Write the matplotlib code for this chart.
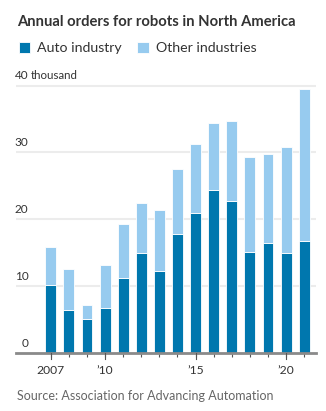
import matplotlib
matplotlib.use('Agg')
import matplotlib.pyplot as plt
import matplotlib.transforms as mtransforms
import numpy as np

plt.rcParams['font.family'] = ['Lato', 'DejaVu Sans']

# ---------------- data (thousands of robots ordered) ----------------
years = [2007, 2008, 2009, 2010, 2011, 2012, 2013, 2014,
         2015, 2016, 2017, 2018, 2019, 2020, 2021]
auto = [10.15, 6.4, 5.0, 6.65, 11.15, 14.9, 12.25, 17.7,
        20.95, 24.4, 22.65, 15.1, 16.35, 15.0, 16.65]
total = [15.8, 12.5, 7.15, 13.15, 19.3, 22.4, 21.4, 27.5,
         31.25, 34.4, 34.7, 29.3, 29.75, 30.8, 39.5]
other = [t - a for t, a in zip(total, auto)]

y_ticks = [0, 10, 20, 30, 40]
x_major = {2007: '2007', 2010: '\u201910', 2015: '\u201915', 2020: '\u201920'}

c_auto = '#0077ae'
c_other = '#97cbef'
c_text = '#333333'
c_grey = '#666666'

W, H = 326, 411
fig = plt.figure(figsize=(W / 100, H / 100), dpi=100)

# axes placed in pixels: left 16, right 316, zero line at y=352.7
y0_px = 352.7
px_per_k = 6.68
ymax = 40.6
ax = fig.add_axes([16 / W, (H - y0_px) / H, 300 / W, ymax * px_per_k / H])

ax.bar(years, auto, width=0.6, color=c_auto, edgecolor='white', linewidth=0.6,
       label='Auto industry', zorder=3)
ax.bar(years, other, bottom=auto, width=0.6, color=c_other, edgecolor='white',
       linewidth=0.6, label='Other industries', zorder=3)

ax.set_xlim(2005.08, 2021.65)
ax.set_ylim(0, ymax)

# gridlines
for v in y_ticks[1:]:
    ax.axhline(v, color='#ececec', linewidth=1.5, zorder=1)
ax.axhline(0, color='#8a8a8a', linewidth=2, zorder=4, clip_on=False)

for s in ax.spines.values():
    s.set_visible(False)
ax.set_yticks([])

# x ticks: short one per year, longer at labelled years
ax.set_xticks(years)
ax.set_xticklabels([])
ax.tick_params(axis='x', length=3, width=0.8, color='#555555', pad=2)
trans_x = mtransforms.blended_transform_factory(ax.transData, ax.transAxes)
for yr, lab in x_major.items():
    ax.plot([yr, yr], [0, -0.025], transform=trans_x, color='#555555',
            linewidth=0.8, clip_on=False, zorder=4)
    ax.text(yr, -0.045, lab, transform=trans_x, ha='center', va='top',
            fontsize=8.7, color=c_text)

# y labels sit above the gridlines, right-aligned
trans_y = mtransforms.blended_transform_factory(ax.transAxes, ax.transData)
lab_x = 12.5 / 300
for v in y_ticks:
    ax.text(lab_x, v + 0.6, str(v), transform=trans_y, ha='right', va='bottom',
            fontsize=8.5, color=c_text)
ax.text(lab_x + 0.006, 40.6, 'thousand', transform=trans_y, ha='left',
        va='bottom', fontsize=8.3, color=c_text)

fig.text(17 / W, 1 - 22 / H, 'Annual orders for robots in North America',
         fontsize=10.6, fontweight='bold', color=c_text, va='center', ha='left')

fig.legend(loc='center left', bbox_to_anchor=(6 / W, 1 - 48 / H), ncol=2,
           frameon=False, fontsize=10.2, handlelength=0.8, handleheight=0.8,
           handletextpad=0.5, columnspacing=1.1, labelcolor=c_text)

fig.text(17 / W, 1 - 396 / H, 'Source: Association for Advancing Automation',
         fontsize=9, color=c_grey, va='center', ha='left')

fig.savefig('out.png', dpi=100)
